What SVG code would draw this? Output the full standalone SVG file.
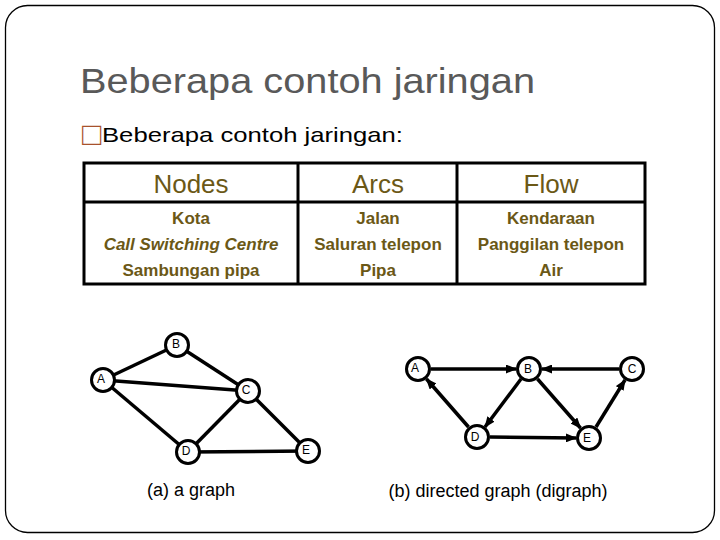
<svg xmlns="http://www.w3.org/2000/svg" width="720" height="540" viewBox="0 0 720 540">
<style>
.title{font-family:"Liberation Sans",Arial,sans-serif;font-size:35px;fill:#595959}
.bul{font-family:"Liberation Sans",Arial,sans-serif;font-size:21px;fill:#000}
.hd{font-family:"Liberation Sans",Arial,sans-serif;font-size:26px;fill:#6b5816;text-anchor:middle}
.cell{font-family:"Liberation Sans",Arial,sans-serif;font-size:17px;font-weight:bold;fill:#6b5816;text-anchor:middle}
.grid{stroke:#000;stroke-width:3;fill:none}
.edge{stroke:#000;stroke-width:3.5;fill:none}
.node circle{fill:#fff;stroke:#000;stroke-width:3}
.node text{font-family:"Liberation Sans",Arial,sans-serif;font-size:12px;fill:#000;text-anchor:middle}
.cap{font-family:"Liberation Sans",Arial,sans-serif;font-size:18px;fill:#000;text-anchor:middle}
</style>
<defs>
<marker id="arr" markerUnits="userSpaceOnUse" markerWidth="11" markerHeight="9" refX="10" refY="4.5" orient="auto">
<path d="M0,0 L11,4.5 L0,9 z" fill="#000"/>
</marker>
</defs>
<rect x="0" y="0" width="720" height="540" fill="#fff"/>
<rect x="5.5" y="5.5" width="709" height="527" rx="22" fill="#fff" stroke="#000" stroke-width="1.3"/>
<text class="title" x="80" y="93" textLength="455" lengthAdjust="spacingAndGlyphs">Beberapa contoh jaringan</text>
<text class="bul" x="82" y="145"><tspan fill="#a8522c" font-size="32">□</tspan><tspan x="102" y="142" textLength="301" lengthAdjust="spacingAndGlyphs">Beberapa contoh jaringan:</tspan></text>
<g id="table">
<rect class="grid" x="84" y="163" width="561" height="121"/>
<line class="grid" x1="84" y1="202" x2="645" y2="202"/>
<line class="grid" x1="298" y1="163" x2="298" y2="284"/>
<line class="grid" x1="457" y1="163" x2="457" y2="284"/>
<text class="hd" x="191" y="193">Nodes</text>
<text class="hd" x="378" y="193">Arcs</text>
<text class="hd" x="551" y="193">Flow</text>
<text class="cell" x="191" y="224">Kota</text>
<text class="cell" x="191" y="250" font-style="italic">Call Switching Centre</text>
<text class="cell" x="191" y="276">Sambungan pipa</text>
<text class="cell" x="378" y="224">Jalan</text>
<text class="cell" x="378" y="250">Saluran telepon</text>
<text class="cell" x="378" y="276">Pipa</text>
<text class="cell" x="551" y="224">Kendaraan</text>
<text class="cell" x="551" y="250">Panggilan telepon</text>
<text class="cell" x="551" y="276">Air</text>
</g>
<g id="connectors-a">
<line class="edge" x1="103" y1="380" x2="177" y2="345"/>
<line class="edge" x1="103" y1="380" x2="248" y2="391"/>
<line class="edge" x1="103" y1="380" x2="188" y2="452"/>
<line class="edge" x1="177" y1="345" x2="248" y2="391"/>
<line class="edge" x1="248" y1="391" x2="188" y2="452"/>
<line class="edge" x1="248" y1="391" x2="308" y2="451"/>
<line class="edge" x1="188" y1="452" x2="308" y2="451"/>
</g>
<g id="a-A" class="node"><circle cx="103" cy="380" r="11.5"/><text x="101" y="383">A</text></g>
<g id="a-B" class="node"><circle cx="177" cy="345" r="11.5"/><text x="176" y="348">B</text></g>
<g id="a-C" class="node"><circle cx="248" cy="391" r="11.5"/><text x="246" y="394">C</text></g>
<g id="a-D" class="node"><circle cx="188" cy="452" r="11.5"/><text x="186" y="455">D</text></g>
<g id="a-E" class="node"><circle cx="308" cy="451" r="11.5"/><text x="306" y="454">E</text></g>
<text class="cap" x="191" y="496">(a) a graph</text>
<g id="connectors-b">
<line class="edge" x1="431" y1="369" x2="516" y2="369" marker-end="url(#arr)"/>
<line class="edge" x1="619" y1="369" x2="542" y2="369" marker-end="url(#arr)"/>
<line class="edge" x1="521" y1="379" x2="485" y2="427" marker-end="url(#arr)"/>
<line class="edge" x1="537.5" y1="379" x2="580.5" y2="428" marker-end="url(#arr)"/>
<line class="edge" x1="468.5" y1="427" x2="426.5" y2="379" marker-end="url(#arr)"/>
<line class="edge" x1="490" y1="437" x2="576" y2="438" marker-end="url(#arr)"/>
<line class="edge" x1="596" y1="427" x2="625" y2="380" marker-end="url(#arr)"/>
</g>
<g id="b-A" class="node"><circle cx="418" cy="369" r="11.5"/><text x="415" y="372">A</text></g>
<g id="b-B" class="node"><circle cx="529" cy="369" r="11.5"/><text x="528" y="373">B</text></g>
<g id="b-C" class="node"><circle cx="632" cy="369" r="11.5"/><text x="632" y="373">C</text></g>
<g id="b-D" class="node"><circle cx="477" cy="437" r="11.5"/><text x="475" y="441">D</text></g>
<g id="b-E" class="node"><circle cx="589" cy="438" r="11.5"/><text x="587" y="442">E</text></g>
<text class="cap" x="498" y="497">(b) directed graph (digraph)</text>
</svg>
